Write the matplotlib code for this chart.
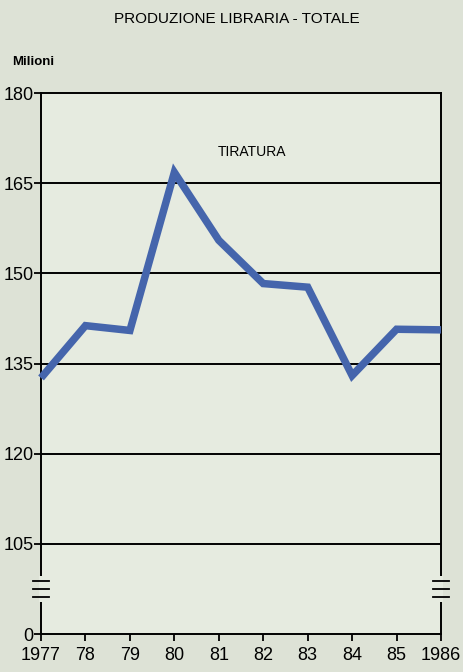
import matplotlib
matplotlib.use("Agg")
import matplotlib.pyplot as plt

years = [1977, 1978, 1979, 1980, 1981, 1982, 1983, 1984, 1985, 1986]
year_labels = ["1977", "78", "79", "80", "81", "82", "83", "84", "85", "1986"]
tiratura = [132.6, 141.3, 140.5, 166.8, 155.5, 148.3, 147.7, 133.0, 140.7, 140.6]
ytick_vals = [90, 105, 120, 135, 150, 165, 180]
ytick_labels = ["0", "105", "120", "135", "150", "165", "180"]

plt.rcParams['font.family'] = ['Liberation Sans', 'DejaVu Sans']

fig = plt.figure(figsize=(4.63, 6.72), dpi=100)
fig.patch.set_facecolor('#dde2d6')
ax = fig.add_axes([0.0886, 0.0565, 0.9525 - 0.0886, 0.8616 - 0.0565])
ax.set_facecolor('#e6ebe0')

ax.plot(years, tiratura, color='#4565ac', lw=5.4, solid_joinstyle='miter',
        solid_capstyle='butt', zorder=3, clip_on=False)

ax.set_xlim(1977, 1986)
ax.set_ylim(90, 180)
ax.set_xticks(years)
ax.set_xticklabels(year_labels, fontsize=13)
ax.set_yticks(ytick_vals)
ax.set_yticklabels(ytick_labels, fontsize=13)
ax.tick_params(axis='both', direction='out', length=5, width=1.3, color='black')
ax.tick_params(axis='x', pad=4)
ax.tick_params(axis='y', pad=0.3)

for v in [105, 120, 135, 150, 165]:
    ax.axhline(v, color='black', lw=1.4, zorder=2)

for s in ax.spines.values():
    s.set_linewidth(1.4)
    s.set_color('black')

# axis break marks
for xpos in [1977, 1986]:
    ax.plot([xpos, xpos], [95.4, 99.7], color='#e6ebe0', lw=3,
            clip_on=False, zorder=4, solid_capstyle='butt')
    for dy in [-1.3, 0, 1.3]:
        ax.plot([xpos - 0.19, xpos + 0.19], [97.5 + dy, 97.5 + dy], color='black', lw=1.3,
                clip_on=False, zorder=5)

ax.text(1980.98, 170.2, "TIRATURA", fontsize=10, ha='left', va='center')
fig.text(0.512, 0.972, "PRODUZIONE LIBRARIA - TOTALE", fontsize=11, ha='center', va='center')
fig.text(0.026, 0.908, "Milioni", fontsize=9.5, ha='left', va='center', fontweight='bold')

fig.savefig("out.png", dpi=100, facecolor=fig.get_facecolor())
